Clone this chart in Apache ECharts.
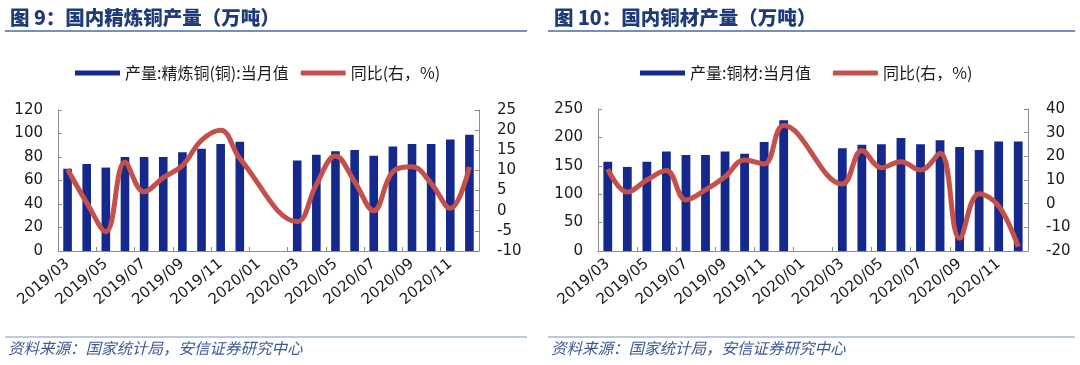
<!DOCTYPE html>
<html>
<head>
<meta charset="utf-8">
<script src="https://cdn.jsdelivr.net/npm/echarts@6/dist/echarts.min.js"></script>
<style>
html,body{margin:0;padding:0;background:#fff;}
#c{width:1080px;height:365px;}
</style>
</head>
<body>
<div id="c"></div>
<script>
// ---- data ----
const categories = ['2019/03','2019/04','2019/05','2019/06','2019/07','2019/08','2019/09','2019/10','2019/11','2019/12',
  '2020/01','2020/02','2020/03','2020/04','2020/05','2020/06','2020/07','2020/08','2020/09','2020/10','2020/11','2020/12'];
// chart 1: refined copper output (10k t) & YoY (%)
const refinedOutput = [70,74,71,80,80,80,84,87,91,93,null,null,77,82,85,86,81,89,91,91,95,99];
const refinedYoY = [10.3,2,-5.2,12,4.7,8.2,11.2,17.5,20,13,null,null,-2.7,6.5,13.6,7.2,0,9.7,10.9,6.8,0.6,10.9];
// chart 2: copper products output (10k t) & YoY (%)
const productOutput = [157,148,157,175,169,169,175,171,192,230,null,null,181,187,188,199,188,195,183,178,193,193];
const productYoY = [14.6,4.9,10,14,1.6,5.8,11.4,18.5,16.8,33,null,null,8.3,22.5,15.2,17.7,14.2,21.3,-14.6,4.2,-1,-18.2];
const titles = ['图 9：国内精炼铜产量（万吨）','图 10：国内铜材产量（万吨）'];
const barNames = ['产量:精炼铜(铜):当月值','产量:铜材:当月值'];
const lineName = '同比(右，%)';
const sourceText = '资料来源：国家统计局，安信证券研究中心';
const leftAxis1 = {min:0,max:120,interval:20};
const rightAxis1 = {min:-10,max:25,interval:5};
const leftAxis2 = {min:0,max:250,interval:50};
const rightAxis2 = {min:-20,max:40,interval:10};

// ---- styles ----
const BAR = '#15288c';
const RED = '#c4504b';
const AXIS = '#8c8c8c';
const TXT = '#1a1a1a';
const TITLE = '#1f3a78';
const NUMFONT = 'DejaVu Sans';
const CJK = '"Noto Sans CJK SC", sans-serif';

const chart = echarts.init(document.getElementById('c'), null, {renderer:'canvas'});

function xAx(g){
  return {type:'category',gridIndex:g,data:categories,boundaryGap:true,
    axisLine:{lineStyle:{color:AXIS,width:1}},
    axisTick:{show:true,inside:true,length:4,interval:1,lineStyle:{color:AXIS}},
    axisLabel:{interval:1,rotate:40,margin:11,fontSize:15,fontFamily:NUMFONT,color:TXT},
    splitLine:{show:false}};
}
function yAx(g,pos,r){
  return {type:'value',gridIndex:g,position:pos,min:r.min,max:r.max,interval:r.interval,
    axisLine:{show:true,lineStyle:{color:AXIS}},
    axisTick:{show:true,inside:true,length:4,lineStyle:{color:AXIS}},
    axisLabel:{margin:pos==='left'?15:18,fontSize:15,fontFamily:NUMFONT,color:TXT},
    splitLine:{show:false}};
}

const option = {
  animation:false,
  backgroundColor:'#fff',
  title:[
    {text:titles[0],left:5,top:3,textStyle:{fontFamily:CJK,fontSize:19.5,fontWeight:900,color:TITLE}},
    {text:titles[1],left:549,top:3,textStyle:{fontFamily:CJK,fontSize:19.5,fontWeight:900,color:TITLE}}
  ],
  legend:[
    {left:70,top:60,itemWidth:45,itemHeight:5,itemGap:12,
      textStyle:{fontFamily:CJK,fontSize:16,color:TXT},
      data:[{name:barNames[0],icon:'rect'},{name:lineName,icon:'roundRect'}]},
    {left:635,top:60,itemWidth:45,itemHeight:5,itemGap:22,
      textStyle:{fontFamily:CJK,fontSize:16,color:TXT},
      data:[{name:barNames[1],icon:'rect'},{name:lineName+' ',icon:'roundRect'}]}
  ],
  grid:[
    {left:58,right:601,top:110,bottom:114},
    {left:598,right:52,top:109,bottom:114}
  ],
  xAxis:[xAx(0),xAx(1)],
  yAxis:[yAx(0,'left',leftAxis1),yAx(0,'right',rightAxis1),yAx(1,'left',leftAxis2),yAx(1,'right',rightAxis2)],
  series:[
    {name:barNames[0],type:'bar',xAxisIndex:0,yAxisIndex:0,data:refinedOutput,barWidth:'45%',itemStyle:{color:BAR}},
    {name:lineName,type:'line',xAxisIndex:0,yAxisIndex:1,data:refinedYoY,smooth:0.4,connectNulls:true,showSymbol:false,
      lineStyle:{color:RED,width:5},itemStyle:{color:RED}},
    {name:barNames[1],type:'bar',xAxisIndex:1,yAxisIndex:2,data:productOutput,barWidth:'45%',itemStyle:{color:BAR}},
    {name:lineName+' ',type:'line',xAxisIndex:1,yAxisIndex:3,data:productYoY,smooth:0.4,connectNulls:true,showSymbol:false,
      lineStyle:{color:RED,width:5},itemStyle:{color:RED}}
  ],
  graphic:[
    {type:'line',shape:{x1:5,y1:31,x2:527,y2:31},style:{stroke:'#4a68a8',lineWidth:1.5}},
    {type:'line',shape:{x1:548,y1:31,x2:1075,y2:31},style:{stroke:'#4a68a8',lineWidth:1.5}},
    {type:'line',shape:{x1:5,y1:337,x2:527,y2:337},style:{stroke:'#7f93bd',lineWidth:1.2}},
    {type:'line',shape:{x1:548,y1:337,x2:1075,y2:337},style:{stroke:'#7f93bd',lineWidth:1.2}},
    {type:'text',left:8,top:340,style:{text:sourceText,fontFamily:CJK,fontSize:15.5,fontStyle:'italic',fill:'#3d5a94'}},
    {type:'text',left:551,top:340,style:{text:sourceText,fontFamily:CJK,fontSize:15.5,fontStyle:'italic',fill:'#3d5a94'}}
  ]
};
chart.setOption(option);
</script>
</body>
</html>
